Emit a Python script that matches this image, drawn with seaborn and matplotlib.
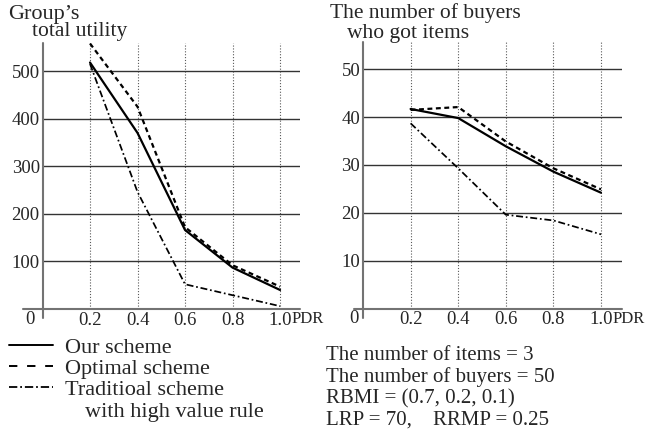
import numpy as np
import pandas as pd
import matplotlib
matplotlib.use("Agg")
import matplotlib.pyplot as plt
from matplotlib.lines import Line2D
import seaborn as sns

# --- Data ---
pdr = [0.2, 0.4, 0.6, 0.8, 1.0]
pdr_labels = ["0.2", "0.4", "0.6", "0.8", "1.0"]
schemes = ["Our scheme", "Optimal scheme", "Traditioal scheme"]

utility_ours = [518, 370, 166, 87, 40]
utility_optimal = [558, 425, 172, 92, 47]
utility_traditional = [515, 246, 52, 29, 6]

buyers_ours = [41.7, 39.8, 33.9, 28.6, 24.2]
buyers_optimal = [41.5, 42.1, 34.9, 29.3, 24.9]
buyers_traditional = [38.7, 29.3, 19.6, 18.4, 15.5]

utility_ticks = [100, 200, 300, 400, 500]
buyers_ticks = [10, 20, 30, 40, 50]

settings_text = ("The number of items = 3\n"
                 "The number of buyers = 50\n"
                 "RBMI = (0.7, 0.2, 0.1)\n"
                 "LRP = 70,    RRMP = 0.25")

# --- Style ---
sns.set_style("white")
plt.rcParams["font.family"] = ["Liberation Serif", "DejaVu Serif"]
TICK_FS = 13.5
TITLE_FS = 15.5
LEG_FS = 16
NOTE_FS = 15

W, H = 647, 432
fig = plt.figure(figsize=(W / 100, H / 100), dpi=100)


def long_df(ours, optimal, trad):
    return pd.DataFrame({
        "PDR": pdr * 3,
        "value": list(ours) + list(optimal) + list(trad),
        "scheme": np.repeat(schemes, len(pdr)),
    })


dash_map = {
    "Our scheme": "",
    "Optimal scheme": (2.2, 1.6),
    "Traditioal scheme": (4, 1.6, 1, 1.6),
}


def draw_panel(ax, df, ticks, ylim, xlim, axis_ext, zero_dx):
    sns.lineplot(data=df, x="PDR", y="value", style="scheme", style_order=schemes,
                 dashes=dash_map, color="black", linewidth=1.6, legend=False, ax=ax)
    ax.lines[2].set_linewidth(1.25)
    ax.set_xlim(0, xlim)
    ax.set_ylim(0, ylim)
    ax.set_xticks(pdr)
    ax.set_xticklabels(pdr_labels)
    ax.set_yticks(ticks)
    ax.set_yticklabels([str(t) for t in ticks])
    ax.tick_params(length=0, labelsize=TICK_FS, pad=2)
    ax.set_xlabel("")
    ax.set_ylabel("")
    for sp in ax.spines.values():
        sp.set_visible(False)
    ax.set_axisbelow(True)
    ax.yaxis.grid(True, color="0.2", linewidth=1.0, linestyle="-")
    ax.xaxis.grid(True, color="0.35", linewidth=0.8, linestyle=(0, (1, 1.6)))
    # axis lines through the origin
    ax.axhline(0, xmin=-axis_ext, xmax=1, color="0.45", linewidth=1.5, clip_on=False)
    ax.axvline(0, ymin=-0.035, ymax=1, color="0.45", linewidth=1.5, clip_on=False)
    ax.annotate("0", xy=(0, 0), xytext=(zero_dx, -7.5), textcoords="offset points",
                ha="center", va="center", fontsize=TICK_FS)
    ax.annotate("PDR", xy=(1.0, 0), xytext=(8.5, -7.5), textcoords="offset points",
                ha="left", va="center", fontsize=TICK_FS - 1.5)


ax1 = fig.add_axes([42.5 / W, 123 / H, 257.5 / W, 266 / H])
draw_panel(ax1, long_df(utility_ours, utility_optimal, utility_traditional),
           utility_ticks, 559, 1.084, 0.075, -9)

ax2 = fig.add_axes([363 / W, 123.5 / H, 258.7 / W, 267 / H])
draw_panel(ax2, long_df(buyers_ours, buyers_optimal, buyers_traditional),
           buyers_ticks, 55.8, 1.087, 0.035, -6.5)

# --- Panel titles ---
fig.text(8 / W, 1 - 19 / H, "Group\u2019s", fontsize=TITLE_FS + 0.5, va="baseline")
fig.text(32 / W, 1 - 36 / H, "total utility", fontsize=TITLE_FS, va="baseline")
fig.text(330 / W, 1 - 18 / H, "The number of buyers", fontsize=TITLE_FS, va="baseline")
fig.text(347 / W, 1 - 38 / H, "who got items", fontsize=TITLE_FS, va="baseline")

# --- Legend (proxy handles with the wider dash spacing of the original key) ---
handles = [
    Line2D([], [], color="black", linewidth=1.4),
    Line2D([], [], color="black", linewidth=1.4, dashes=(4.3, 5)),
    Line2D([], [], color="black", linewidth=1.3, dashes=(4.6, 1.6, 1, 1.6)),
]
fig.legend(handles, schemes, loc="upper left", bbox_to_anchor=(9 / W, 1 - 337.5 / H),
           frameon=False, fontsize=LEG_FS, handlelength=2.0, handletextpad=0.5,
           labelspacing=0.02, borderpad=0, borderaxespad=0)
fig.text(85 / W, 1 - 413 / H, "with high value rule", fontsize=LEG_FS, va="center")

# --- Settings ---
fig.text(326 / W, 1 - 345.5 / H, settings_text, fontsize=NOTE_FS, va="top", linespacing=1.16)

fig.savefig("out.png", dpi=100)
